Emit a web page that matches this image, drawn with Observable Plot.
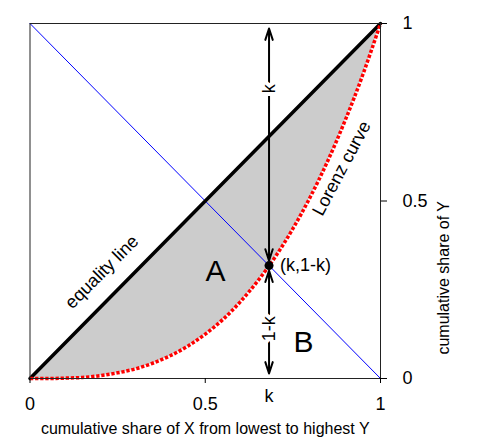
<!DOCTYPE html>
<html><head><meta charset="utf-8">
<script src="https://cdn.jsdelivr.net/npm/d3@7"></script>
<script src="https://cdn.jsdelivr.net/npm/@observablehq/plot@0.6"></script>
<style>body{margin:0;background:#fff}</style>
</head><body><div id="chart"></div>
<script>
// Lorenz curve
const shareX = [0, 0.05, 0.1, 0.15, 0.2, 0.25, 0.3, 0.35, 0.4, 0.45, 0.5, 0.55, 0.6, 0.65, 0.7, 0.75, 0.8, 0.85, 0.9, 0.95, 1];
const shareY = [0, 0.000, 0.001, 0.003, 0.008, 0.016, 0.027, 0.043, 0.064, 0.091, 0.125, 0.166, 0.216, 0.275, 0.343, 0.422, 0.512, 0.614, 0.729, 0.857, 1];
const k = 0.682;
const xTicks = [0, 0.5, 1];
const yTicks = [0, 0.5, 1];
const regionNames = ["A", "B"];
const regionX = [0.529, 0.780];
const regionY = [0.303, 0.102];
const kLabelY = 0.816;
const oneMinusKLabelY = 0.14;

const rows = shareX.map((x, i) => ({x, y: shareY[i], eq: x}));
const font = "'Liberation Sans', Arial, Helvetica, sans-serif";

const chart = Plot.plot({
  width: 491,
  height: 446,
  marginLeft: 29.5,
  marginRight: 111,
  marginTop: 23,
  marginBottom: 68,
  style: {fontFamily: font, background: "white", color: "black"},
  x: {domain: [0, 1]},
  y: {domain: [0, 1]},
  marks: [
    Plot.areaY(rows, {x: "x", y1: "y", y2: "eq", fill: "#cccccc", curve: "natural"}),
    Plot.line([[0, 1], [1, 0]], {stroke: "#0000ff", strokeWidth: 1}),
    Plot.line([[0, 0], [1, 1]], {stroke: "black", strokeWidth: 3.5}),
    Plot.line(rows, {x: "x", y: "y", stroke: "#ff0000", strokeWidth: 3.5, strokeDasharray: "3.3,1.8", strokeLinecap: "butt", curve: "natural"}),
    Plot.frame({stroke: "#222", strokeWidth: 1}),
    Plot.axisX({ticks: xTicks, tickFormat: d => String(d), tickSize: 5, tickPadding: 14, fontSize: 18, label: null}),
    Plot.axisY({anchor: "right", ticks: yTicks, tickFormat: d => String(d), tickSize: 6, tickPadding: 16, fontSize: 18, label: null}),
    Plot.text(["cumulative share of X from lowest to highest Y"], {frameAnchor: "bottom", dy: 55, fontSize: 16}),
    Plot.text(["cumulative share of Y"], {frameAnchor: "right", dx: 63, rotate: -90, fontSize: 16}),
    Plot.arrow([
      {x1: k, y1: kLabelY, x2: k, y2: 1},
      {x1: k, y1: kLabelY, x2: k, y2: 1 - k},
      {x1: k, y1: oneMinusKLabelY, x2: k, y2: 1 - k},
      {x1: k, y1: oneMinusKLabelY, x2: k, y2: 0}
    ], {x1: "x1", y1: "y1", x2: "x2", y2: "y2", bend: 0, stroke: "black", strokeWidth: 2, headLength: 9, headAngle: 36, insetEnd: 5}),
    Plot.text(["k"], {x: k, y: kLabelY, rotate: -90, fontSize: 18, fill: "black", stroke: "white", strokeWidth: 8}),
    Plot.text(["1-k"], {x: k, y: oneMinusKLabelY, rotate: -90, fontSize: 18, fill: "black", stroke: "white", strokeWidth: 8}),
    Plot.dot([[k, 1 - k]], {r: 4.5, fill: "black"}),
    Plot.text(["(k,1-k)"], {x: k, y: 1 - k, dx: 11, textAnchor: "start", fontSize: 18}),
    Plot.text(["k"], {x: k, y: 0, dy: 17.5, fontSize: 18, clip: false}),
    Plot.text(["equality line"], {x: 0.205, y: 0.300, rotate: -45, fontSize: 18}),
    Plot.text(["Lorenz curve"], {x: 0.889, y: 0.592, rotate: -62, fontSize: 18}),
    Plot.text(regionNames, {x: (d, i) => regionX[i], y: (d, i) => regionY[i], fontSize: 30})
  ]
});
document.getElementById("chart").appendChild(chart);
</script>
</body></html>
